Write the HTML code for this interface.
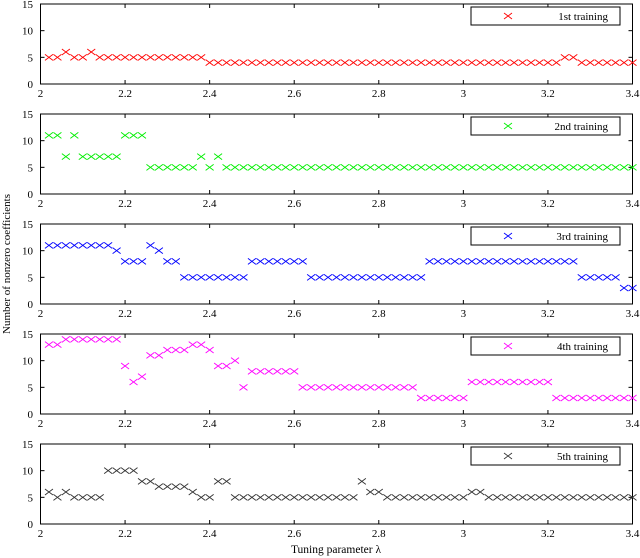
<!DOCTYPE html>
<html><head><meta charset="utf-8">
<style>
html,body{margin:0;padding:0;background:#fff;}
svg{display:block;font-family:"Liberation Serif",serif;}
</style></head>
<body>
<svg id="chart" width="640" height="558" viewBox="0 0 640 558" xmlns="http://www.w3.org/2000/svg"></svg>
<script>
const lambdaStart = 2.02;
const lambdaStep = 0.02;
const xTicks = [2, 2.2, 2.4, 2.6, 2.8, 3, 3.2, 3.4];
const xTickLabels = ["2", "2.2", "2.4", "2.6", "2.8", "3", "3.2", "3.4"];
const yTicks = [0, 5, 10, 15];
const seriesNames = ["1st training", "2nd training", "3rd training", "4th training", "5th training"];
const seriesColors = ["#ff0000", "#00ee00", "#0000ff", "#ff00ff", "#333333"];
const series1 = [5,5,6,5,5,6,5,5,5,5,5,5,5,5,5,5,5,5,5,4,4,4,4,4,4,4,4,4,4,4,4,4,4,4,4,4,4,4,4,4,4,4,4,4,4,4,4,4,4,4,4,4,4,4,4,4,4,4,4,4,4,5,5,4,4,4,4,4,4,4];
const series2 = [11,11,7,11,7,7,7,7,7,11,11,11,5,5,5,5,5,5,7,5,7,5,5,5,5,5,5,5,5,5,5,5,5,5,5,5,5,5,5,5,5,5,5,5,5,5,5,5,5,5,5,5,5,5,5,5,5,5,5,5,5,5,5,5,5,5,5,5,5,5];
const series3 = [11,11,11,11,11,11,11,11,10,8,8,8,11,10,8,8,5,5,5,5,5,5,5,5,8,8,8,8,8,8,8,5,5,5,5,5,5,5,5,5,5,5,5,5,5,8,8,8,8,8,8,8,8,8,8,8,8,8,8,8,8,8,8,5,5,5,5,5,3,3];
const series4 = [13,13,14,14,14,14,14,14,14,9,6,7,11,11,12,12,12,13,13,12,9,9,10,5,8,8,8,8,8,8,5,5,5,5,5,5,5,5,5,5,5,5,5,5,3,3,3,3,3,3,6,6,6,6,6,6,6,6,6,6,3,3,3,3,3,3,3,3,3,3];
const series5 = [6,5,6,5,5,5,5,10,10,10,10,8,8,7,7,7,7,6,5,5,8,8,5,5,5,5,5,5,5,5,5,5,5,5,5,5,5,8,6,6,5,5,5,5,5,5,5,5,5,5,6,6,5,5,5,5,5,5,5,5,5,5,5,5,5,5,5,5,5,5];
const allSeries = [series1, series2, series3, series4, series5];

const NS = "http://www.w3.org/2000/svg";
const svg = document.getElementById("chart");
const X0 = 40.5, X1 = 632.5;
const panelTops = [4, 114, 224, 334, 444];
const PH = 80;
function xScale(v){ return X0 + (v - 2) / 1.4 * (X1 - X0); }
function yScale(v, top){ return top + PH - v / 15 * PH; }
function mk(tag, attrs, parent){
  const e = document.createElementNS(NS, tag);
  for (const k in attrs) e.setAttribute(k, attrs[k]);
  (parent || svg).appendChild(e);
  return e;
}

allSeries.forEach((vals, p) => {
  const top = panelTops[p];
  const g = mk("g", {});
  
  
  const frame = mk("rect", {x: X0, y: top, width: X1 - X0, height: PH, fill: "#fff", stroke: "#000", "stroke-width": 1}, g);
  
  
  xTicks.forEach((t, i) => {
    const x = xScale(t);
    mk("line", {x1: x, x2: x, y1: top + PH, y2: top + PH - 4, stroke: "#000"}, g);
    mk("line", {x1: x, x2: x, y1: top, y2: top + 4, stroke: "#000"}, g);
    const lb = mk("text", {x: x, y: top + PH + 13, "font-size": 11, "text-anchor": "middle"}, g);
    lb.textContent = xTickLabels[i];
    
    
  });
  yTicks.forEach(t => {
    const y = yScale(t, top);
    mk("line", {x1: X0, x2: X0 + 4, y1: y, y2: y, stroke: "#000"}, g);
    mk("line", {x1: X1, x2: X1 - 4, y1: y, y2: y, stroke: "#000"}, g);
    const lb = mk("text", {x: 33, y: y + 4, "font-size": 11, "text-anchor": "end"}, g);
    lb.textContent = String(t);
    
    
  });
  const col = seriesColors[p];
  vals.forEach((v, i) => {
    const cx = xScale(lambdaStart + i * lambdaStep), cy = yScale(v, top);
    const m = mk("path", {d: `M${cx-4},${cy-3}L${cx+4},${cy+3}M${cx-4},${cy+3}L${cx+4},${cy-3}`, stroke: col, "stroke-width": 0.9, fill: "none"}, g);
    
    
  });
  const lg = mk("g", {}, g);
  
  
  mk("rect", {x: 471, y: top + 3, width: 149, height: 18, fill: "#fff", stroke: "#000"}, lg);
  const lx = 508, ly = top + 12;
  mk("path", {d: `M${lx-4},${ly-3}L${lx+4},${ly+3}M${lx-4},${ly+3}L${lx+4},${ly-3}`, stroke: col, "stroke-width": 0.9}, lg);
  const lt = mk("text", {x: 608, y: top + 16, "font-size": 11, "text-anchor": "end"}, lg);
  lt.textContent = seriesNames[p];
  
  
});

const yt = mk("text", {x: 0, y: 0, "font-size": 11, "text-anchor": "middle", transform: "translate(10,264) rotate(-90)"});
yt.textContent = "Number of nonzero coefficients";


const xt = mk("text", {x: 336, y: 553, "font-size": 11.5, "text-anchor": "middle"});
xt.textContent = "Tuning parameter λ";


</script>
</body></html>
